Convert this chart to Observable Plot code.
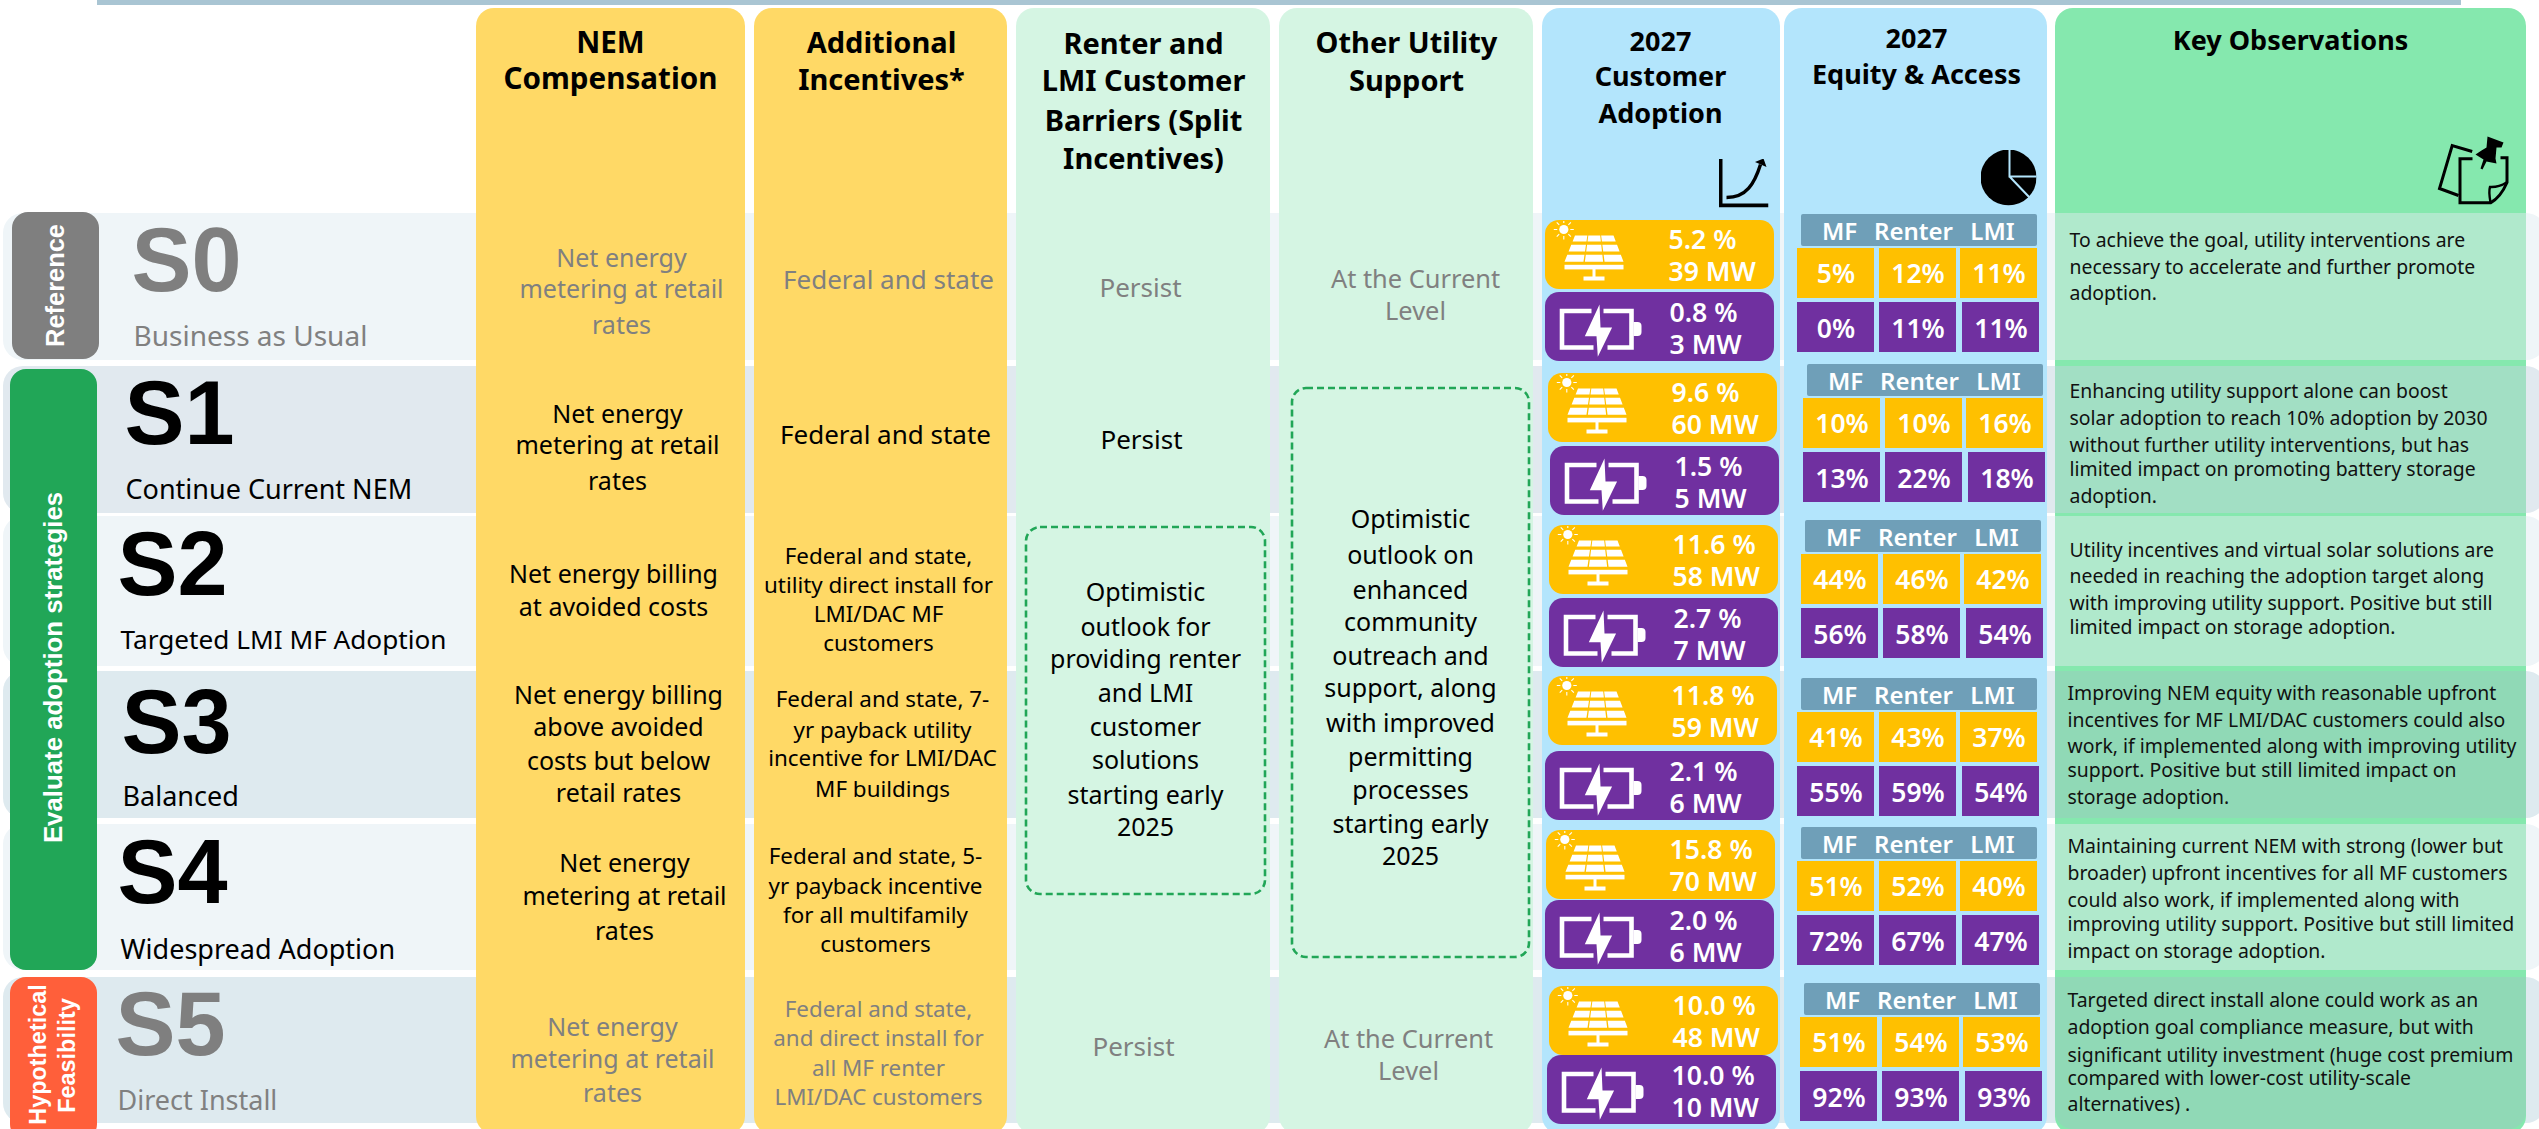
<!DOCTYPE html>
<html>
<head>
<meta charset="utf-8">
<script src="https://cdn.jsdelivr.net/npm/d3@7"></script>
<script src="https://cdn.jsdelivr.net/npm/@observablehq/plot@0.6"></script>
<style>
  html, body { margin: 0; padding: 0; background: #fff; }
  svg { display: block; }
</style>
</head>
<body>
<div id="chart"></div>
<script>
// ---------- DATA ----------
const scenarios = ["S0", "S1", "S2", "S3", "S4", "S5"];
const scenarioNames = ["Business as Usual", "Continue Current NEM", "Targeted LMI MF Adoption", "Balanced", "Widespread Adoption", "Direct Install"];
const groups = ["Reference", "Evaluate adoption strategies", "Hypothetical|Feasibility"];
const headers = [
  "NEM|Compensation", "Additional|Incentives*", "Renter and|LMI Customer|Barriers (Split|Incentives)",
  "Other Utility|Support", "2027|Customer|Adoption", "2027|Equity & Access", "Key Observations"
];
const nemText = [
  "Net energy|metering at retail|rates", "Net energy|metering at retail|rates", "Net energy billing|at avoided costs",
  "Net energy billing|above avoided|costs but below|retail rates", "Net energy|metering at retail|rates", "Net energy|metering at retail|rates"
];
const incentiveText = [
  "Federal and state", "Federal and state",
  "Federal and state,|utility direct install for|LMI/DAC MF|customers",
  "Federal and state, 7-|yr payback utility|incentive for LMI/DAC|MF buildings",
  "Federal and state, 5-|yr payback incentive|for all multifamily|customers",
  "Federal and state,|and direct install for|all MF renter|LMI/DAC customers"
];
const renterPersist = ["Persist", "Persist", "Persist"];
const renterOutlook = "Optimistic|outlook for|providing renter|and LMI|customer|solutions|starting early|2025";
const utilityCurrent = "At the Current|Level";
const utilityOutlook = "Optimistic|outlook on|enhanced|community|outreach and|support, along|with improved|permitting|processes|starting early|2025";
const solarPct = ["5.2", "9.6", "11.6", "11.8", "15.8", "10.0"];
const solarMW = [39, 60, 58, 59, 70, 48];
const batteryPct = ["0.8", "1.5", "2.7", "2.1", "2.0", "10.0"];
const batteryMW = [3, 5, 7, 6, 6, 10];
const equityHeads = ["MF", "Renter", "LMI"];
const equitySolarMF = [5, 10, 44, 41, 51, 51];
const equitySolarRenter = [12, 10, 46, 43, 52, 54];
const equitySolarLMI = [11, 16, 42, 37, 40, 53];
const equityBatteryMF = [0, 13, 56, 55, 72, 92];
const equityBatteryRenter = [11, 22, 58, 59, 67, 93];
const equityBatteryLMI = [11, 18, 54, 54, 47, 93];
const observations = [
  "To achieve the goal, utility interventions are|necessary to accelerate and further promote|adoption.",
  "Enhancing utility support alone can boost|solar adoption to reach 10% adoption by 2030|without further utility interventions, but has|limited impact on promoting battery storage|adoption.",
  "Utility incentives and virtual solar solutions are|needed in reaching the adoption target along|with improving utility support. Positive but still|limited impact on storage adoption.",
  "Improving NEM equity with reasonable upfront|incentives for MF LMI/DAC customers could also|work, if implemented along with improving utility|support. Positive but still limited impact on|storage adoption.",
  "Maintaining current NEM with strong (lower but|broader) upfront incentives for all MF customers|could also work, if implemented along with|improving utility support. Positive but still limited|impact on storage adoption.",
  "Targeted direct install alone could work as an|adoption goal compliance measure, but with|significant utility investment (huge cost premium|compared with lower-cost utility-scale|alternatives) ."
];

// ---------- LAYOUT ----------
const W = 2539, H = 1129;
const FONT = "'Noto Sans', sans-serif", TAGFONT = "'Liberation Sans', Arial, sans-serif";
const GRAY = "#808080", BLACK = "#000000", WHITE = "#ffffff";
const SOLAR = "#ffc000", BATTERY = "#7030a0", STRIP = "#6f9fb8", GREEN = "#21a657";

const bandY = [[213,360],[366,513],[516,666],[671,818],[824,970],[977,1123]];
const bandFill = ["#eff5f8","#e1e9ef","#eff5f8","#deeaef","#eff5f8","#deeaef"];
const keyFill = ["#b0e9cc","#a2dfc4","#b0e9cc","#90d9b6","#b0e9cc","#90d9b6"];
const colX = [[476,745],[754,1007],[1016,1270],[1279,1533],[1542,1780],[1784,2047],[2055,2526]];
const colFill = ["#ffd966","#ffd966","#d5f5e3","#d5f5e3","#b3e5fc","#b3e5fc","#85e8ae"];
const rowGray = [true,false,false,false,false,true];

const headX = [610,881,1143,1406,1660,1916,2290];
const headSize = [29.6,29,29,29,27,27,27];
const headY = [[52,88],[52,89],[53,90,130,168],[52,90],[50,85,122],[47,83],[49]];

const numX = [131,124,117,121,117,115], numY = [290,443,594,752,902,1054];
const subX = [133,125,120,122,120,117], subY = [345,498,648,805,958,1109];
const subSize = [28,27,26.2,27,27,27];

const nemX = [621,617,613,618,624,612];
const nemY = [[266,297,333],[422,453,489],[582,615],[703,735,769,801],[871,904,939],[1035,1067,1101]];
const incX = [888,885,878,882,875,878];
const incY = [[288],[443],[563,592,621,650],[706,737,765,796],[863,893,922,951],[1016,1045,1075,1104]];
const incSize = [26,26,22.4,22.4,22.4,22.4];
const renterCells = [{x:1140,y:296,gray:true},{x:1141,y:448,gray:false},{x:1133,y:1055,gray:true}];
const renterOutlookX = 1145, renterOutlookY = [600,635,667,701,735,768,803,835];
const utilCells = [{x:1415,y:[287,319]},{x:1408,y:[1047,1079]}];
const utilOutlookX = 1410, utilOutlookY = [527,563,598,630,664,696,731,765,798,832,864];
const dashBoxes = [{x1:1026,x2:1265,y1:527,y2:894},{x1:1292,x2:1529,y1:388,y2:957}];

const solarBox = [[1545,220],[1548,373],[1549,525],[1548,676],[1546,830],[1549,986]];
const batteryBox = [[1545,292],[1550,446],[1549,598],[1545,751],[1545,900],[1547,1055]];
const cardW = 229, cardH = 69;
const eqOrigin = [[1797,214],[1803,364],[1801,520],[1797,678],[1797,827],[1800,983]];
const eqColSolar = [[0,77],[82,159],[163,240]], eqColBattery = [[0,77],[82,159],[165,242]];
const eqHeadX = [42,116,195];

const keyX = [2069,2069,2069,2067,2067,2067];
const keyY = [[246,273,299],[397,424,451,475,502],[556,582,609,633],[699,726,752,776,803],[852,879,906,930,957],[1006,1033,1061,1084,1110]];

// ---------- ICONS (inline SVG sources for the image mark) ----------
const uri = s => "data:image/svg+xml;utf8," + encodeURIComponent(s);
function solarIcon() {
  const top = 15, bottom = 41.3;
  const L = y => 29.5 - (y - top) * 10.5 / (bottom - top);
  const R = y => 68 + (y - top) * 10 / (bottom - top);
  const rowsY = [[15,21],[24.3,31],[34.3,41.3]];
  let p = "";
  for (const [a, b] of rowsY) for (let j = 0; j < 3; j++) {
    const xa = k => L(a) + (R(a) - L(a)) * k, xb = k => L(b) + (R(b) - L(b)) * k;
    const k1 = j / 3 + (j ? 0.012 : 0), k2 = (j + 1) / 3 - (j < 2 ? 0.012 : 0);
    p += `M${xa(k1)} ${a}L${xa(k2)} ${a}L${xb(k2)} ${b}L${xb(k1)} ${b}Z`;
  }
  let rays = "";
  for (let i = 0; i < 8; i++) {
    const t = i * Math.PI / 4;
    rays += `M${18.3 + 6.5 * Math.cos(t)} ${9 + 6.5 * Math.sin(t)}L${18.3 + 10 * Math.cos(t)} ${9 + 10 * Math.sin(t)}`;
  }
  return uri(`<svg xmlns="http://www.w3.org/2000/svg" viewBox="0 0 80 65" width="80" height="65"><path d="${p}" fill="#fff"/><rect x="19" y="44.3" width="59" height="4.6" fill="#fff"/><rect x="47" y="48" width="3" height="9" fill="#fff"/><rect x="38" y="56" width="21" height="4" fill="#fff"/><circle cx="18.3" cy="9" r="4.6" fill="#fff"/><path d="${rays}" stroke="#fff" stroke-width="1.1"/></svg>`);
}
function batteryIcon() {
  return uri(`<svg xmlns="http://www.w3.org/2000/svg" viewBox="0 0 100 69" width="100" height="69"><path d="M46 18.5H16.5V55H48M58 18.5H86V55H62" fill="none" stroke="#fff" stroke-width="4.6"/><path d="M88 29.5h4q4 0 4 4v6q0 4-4 4h-4z" fill="#fff"/><path d="M54 12L39.3 43.7H51L52.3 64.3L66.6 35H55Z" fill="#fff"/></svg>`);
}
const axisIcon = uri(`<svg xmlns="http://www.w3.org/2000/svg" viewBox="0 0 50 49" width="50" height="49"><path d="M2 0V47H50" fill="none" stroke="#000" stroke-width="4"/><path d="M8 39C28 39 36 25 42 6" fill="none" stroke="#000" stroke-width="3.4"/><path d="M45 0L36.5 3.5L48 8.5Z" fill="#000"/></svg>`);
const pieIcon = uri(`<svg xmlns="http://www.w3.org/2000/svg" viewBox="0 0 56 56" width="56" height="56"><circle cx="28" cy="28" r="28" fill="#000"/><path d="M29 -1V27H57M29 27L50 49" fill="none" stroke="#b3e5fc" stroke-width="2"/></svg>`);
const noteIcon = uri(`<svg xmlns="http://www.w3.org/2000/svg" viewBox="0 0 95 85" width="95" height="85"><path d="M46.7 26L26.7 20L14 63L33 70" fill="none" stroke="#000" stroke-width="3"/><path d="M47 33.3H34.5V77.3H65Q75 72 81.5 57V32.3H75" fill="none" stroke="#000" stroke-width="3"/><path d="M65 77Q63 66 64.5 61.5Q73 62 81 57" fill="none" stroke="#000" stroke-width="2.4"/><path d="M62 11L78 17L76 22L71 22L70 33L71 38L61 36L57 44L55 43L58 34L50 29L56 25L61 22Z" fill="#000"/></svg>`);

// ---------- TABLES BUILT FROM DATA + LAYOUT ----------
const rects = (rows, o = {}) => Plot.rect(rows, {x1: "x1", x2: "x2", y1: "y1", y2: "y2", fill: d => d.fill, ...o});

const bands = scenarios.map((s, i) => ({x1: 3, x2: 2546, y1: bandY[i][0], y2: bandY[i][1], fill: bandFill[i]}));
const columns = headers.map((h, i) => ({x1: colX[i][0], x2: colX[i][1], y1: 8, y2: 1134, fill: colFill[i]}));
const keyTints = scenarios.map((s, i) => ({
  x1: colX[6][0], x2: colX[6][1], y1: i === 0 ? 213 : bandY[i][0], y2: i === 5 ? 1110 : bandY[i][1], fill: keyFill[i]
}));
const keyFoot = [{x1: colX[6][0], x2: colX[6][1], y1: 1080, y2: 1129, fill: keyFill[5]}];
const tags = [
  {x1: 12, x2: 99, y1: 212, y2: 359, fill: "#7f7f7f"},
  {x1: 10, x2: 97, y1: 369, y2: 970, fill: GREEN},
  {x1: 10, x2: 97, y1: 977, y2: 1140, fill: "#ff5f3a"}
];

const cards = [];
const equityCells = [];
const strips = [];
const boldText = [];
const semiText = [];
const plainText = [];
const icons = [];
const solarSrc = solarIcon(), batterySrc = batteryIcon();

headers.forEach((h, i) => h.split("|").forEach((line, k) =>
  boldText.push({text: line, x: headX[i], y: headY[i][k], size: headSize[i], fill: BLACK})));

scenarios.forEach((s, i) => {
  const gray = rowGray[i], tone = gray ? GRAY : BLACK;
  nemText[i].split("|").forEach((line, k) => plainText.push({text: line, x: nemX[i], y: nemY[i][k], size: 25, fill: tone}));
  incentiveText[i].split("|").forEach((line, k) => plainText.push({text: line, x: incX[i], y: incY[i][k], size: incSize[i], fill: tone}));
  plainText.push({text: scenarioNames[i], x: subX[i], y: subY[i], size: subSize[i], fill: tone, anchor: "start"});
  observations[i].split("|").forEach((line, k) => plainText.push({text: line, x: keyX[i], y: keyY[i][k], size: 19.4, fill: "#111111", anchor: "start"}));

  const [sx, sy] = solarBox[i], [bx, by] = batteryBox[i];
  cards.push({x1: sx, x2: sx + cardW, y1: sy, y2: sy + cardH, fill: SOLAR});
  cards.push({x1: bx, x2: bx + cardW, y1: by, y2: by + cardH, fill: BATTERY});
  icons.push({x: sx + 40, y: sy + 32.5, w: 80, h: 65, src: solarSrc});
  icons.push({x: bx + 50, y: by + 34.5, w: 100, h: 69, src: batterySrc});
  semiText.push({text: `${solarPct[i]} %`, x: sx + 123, y: sy + 28, size: 26.6, fill: WHITE, anchor: "start"});
  semiText.push({text: `${solarMW[i]} MW`, x: sx + 123, y: sy + 60, size: 26.6, fill: WHITE, anchor: "start"});
  semiText.push({text: `${batteryPct[i]} %`, x: bx + 124, y: by + 29, size: 26.6, fill: WHITE, anchor: "start"});
  semiText.push({text: `${batteryMW[i]} MW`, x: bx + 124, y: by + 61, size: 26.6, fill: WHITE, anchor: "start"});

  const [ex, ey] = eqOrigin[i];
  strips.push({x1: ex + 4, x2: ex + 240, y1: ey, y2: ey + 32, fill: STRIP});
  equityHeads.forEach((h, k) => semiText.push({text: h, x: ex + eqHeadX[k], y: ey + 25, size: 24, fill: WHITE}));
  const solarVals = [equitySolarMF[i], equitySolarRenter[i], equitySolarLMI[i]];
  const batteryVals = [equityBatteryMF[i], equityBatteryRenter[i], equityBatteryLMI[i]];
  solarVals.forEach((v, k) => {
    const [a, b] = eqColSolar[k];
    equityCells.push({x1: ex + a, x2: ex + b, y1: ey + 34, y2: ey + 84, fill: SOLAR});
    semiText.push({text: `${v}%`, x: ex + (a + b) / 2, y: ey + 68, size: 26.5, fill: WHITE});
  });
  batteryVals.forEach((v, k) => {
    const [a, b] = eqColBattery[k];
    equityCells.push({x1: ex + a, x2: ex + b, y1: ey + 88, y2: ey + 138, fill: BATTERY});
    semiText.push({text: `${v}%`, x: ex + (a + b) / 2, y: ey + 123, size: 26.5, fill: WHITE});
  });
});

renterCells.forEach((c, i) => plainText.push({text: renterPersist[i], x: c.x, y: c.y, size: 26, fill: c.gray ? GRAY : BLACK}));
utilCells.forEach(c => utilityCurrent.split("|").forEach((line, k) => plainText.push({text: line, x: c.x, y: c.y[k], size: 25.4, fill: GRAY})));
renterOutlook.split("|").forEach((line, k) => plainText.push({text: line, x: renterOutlookX, y: renterOutlookY[k], size: 25, fill: BLACK}));
utilityOutlook.split("|").forEach((line, k) => plainText.push({text: line, x: utilOutlookX, y: utilOutlookY[k], size: 25, fill: BLACK}));

const numbers = scenarios.map((s, i) => ({text: s, x: numX[i], y: numY[i], size: 90, fill: rowGray[i] ? "#7f7f7f" : BLACK}));
const tagText = [
  {text: groups[0], x: 55, y: 285, size: 25.4},
  {text: groups[1], x: 53, y: 667, size: 25.8},
  {text: groups[2].split("|")[0], x: 38, y: 1054, size: 23.4},
  {text: groups[2].split("|")[1], x: 67, y: 1055, size: 23.4}
];
icons.push({x: 1743, y: 182.5, w: 50, h: 49, src: axisIcon});
icons.push({x: 2008, y: 177, w: 56, h: 56, src: pieIcon});
icons.push({x: 2472.5, y: 167.5, w: 95, h: 85, src: noteIcon});

const texts = (rows, family, weight) => Plot.text(rows, {
  x: "x", y: "y", text: "text", fontSize: d => d.size, fill: d => d.fill,
  textAnchor: rows[0].anchor === "start" ? "start" : undefined,
  lineAnchor: "bottom", fontFamily: family, fontWeight: weight
});
const startRows = r => r.filter(d => d.anchor === "start");
const midRows = r => r.filter(d => d.anchor !== "start");

// ---------- PLOT ----------
const chart = Plot.plot({
  width: W, height: H,
  marginTop: 0, marginRight: 0, marginBottom: 0, marginLeft: 0,
  x: {domain: [0, W], range: [0, W], axis: null},
  y: {domain: [0, H], range: [0, H], axis: null},
  color: {type: "identity"},
  style: {background: "#ffffff", overflow: "hidden"},
  marks: [
    rects([{x1: 97, x2: 2461, y1: 0, y2: 5, fill: "#a9c5d3"}]),
    rects(bands, {rx: 20, ry: 20}),
    rects(columns, {rx: 18, ry: 18}),
    rects(keyFoot, {rx: 18, ry: 18}),
    rects(keyTints),
    rects(tags, {rx: 16, ry: 16}),
    rects(cards, {rx: 14, ry: 14}),
    rects(strips, {rx: 2, ry: 2}),
    rects(equityCells),
    Plot.rect(dashBoxes, {x1: "x1", x2: "x2", y1: "y1", y2: "y2", fill: "none", stroke: GREEN, strokeWidth: 2.6, strokeDasharray: "7 4", rx: 14, ry: 14}),
    Plot.image(icons, {x: "x", y: "y", width: d => d.w, height: d => d.h, src: d => d.src}),
    texts(numbers.map(d => ({...d, anchor: "start"})), TAGFONT, 700),
    Plot.text(tagText, {x: "x", y: "y", text: "text", rotate: -90, fontSize: d => d.size, fill: WHITE, fontFamily: TAGFONT, fontWeight: 700}),
    texts(boldText, FONT, 700),
    texts(midRows(semiText), FONT, 600),
    texts(startRows(semiText), FONT, 600),
    texts(midRows(plainText), FONT, 400),
    texts(startRows(plainText), FONT, 400)
  ]
});
document.getElementById("chart").append(chart);
</script>
</body>
</html>
